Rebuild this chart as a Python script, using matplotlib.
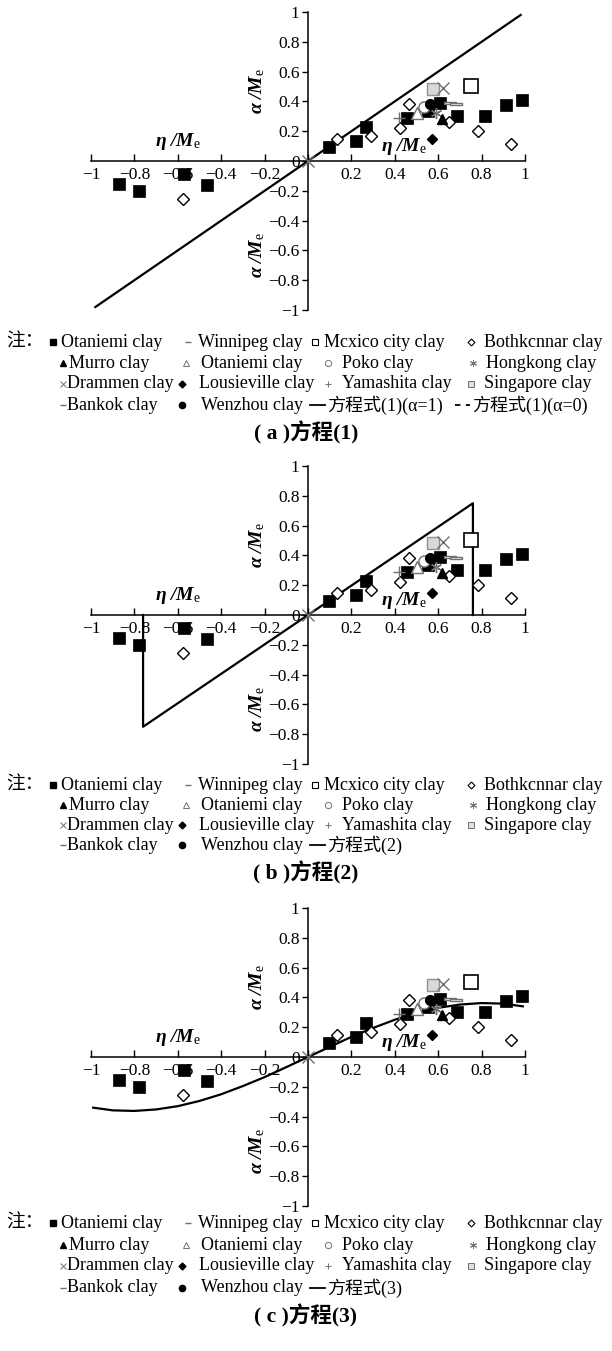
import numpy as np
import matplotlib.pyplot as plt
from matplotlib.lines import Line2D

plt.rcParams['font.family'] = ['Liberation Serif', 'Noto Sans CJK SC']
plt.rcParams['mathtext.fontset'] = 'custom'
plt.rcParams['mathtext.rm'] = 'Liberation Serif'
plt.rcParams['mathtext.it'] = 'Liberation Serif:italic'
plt.rcParams['mathtext.bf'] = 'Liberation Serif:bold:italic'
plt.rcParams['axes.unicode_minus'] = True

# ---- measured points (eta/Me, alpha/Me) ----
otaniemi_x = [-0.87, -0.777, -0.573, -0.465, 0.095, 0.221, 0.266, 0.455, 0.553, 0.61, 0.687, 0.815, 0.912, 0.985]
otaniemi_y = [-0.153, -0.203, -0.087, -0.16, 0.094, 0.131, 0.226, 0.288, 0.333, 0.388, 0.304, 0.304, 0.376, 0.41]
bothkennar_x = [-0.577, 0.135, 0.291, 0.425, 0.465, 0.65, 0.785, 0.935]
bothkennar_y = [-0.258, 0.151, 0.17, 0.222, 0.385, 0.26, 0.2, 0.112]
mexico_x, mexico_y = [0.753], [0.505]
singapore_x, singapore_y = [0.576], [0.481]
drammen_x, drammen_y = [0.62, 0.0], [0.488, 0.0]
hongkong_x, hongkong_y = [0.59], [0.325]
murro_x, murro_y = [0.619], [0.279]
otaniemi2_x, otaniemi2_y = [0.503], [0.324]
poko_x, poko_y = [0.534], [0.362]
wenzhou_x, wenzhou_y = [0.562], [0.383]
lousieville_x, lousieville_y = [0.571], [0.15]
yamashita_x, yamashita_y = [0.42], [0.29]
winnipeg_x, winnipeg_y = [0.655], [0.39]
bankok_x, bankok_y = [0.68], [0.385]

# ---- model curves ----
eq1_x = [-0.98, 0.98]
eq1_y = [-0.98, 0.98]
eq2_x = [-0.76, -0.76, 0.76, 0.76]
eq2_y = [0.0, -0.75, 0.75, 0.0]
eq3_x = [-0.99, -0.9, -0.8, -0.7, -0.6, -0.5, -0.4, -0.3, -0.2, -0.1, 0.0,
         0.1, 0.2, 0.3, 0.4, 0.5, 0.6, 0.7, 0.8, 0.9, 0.99]
eq3_y = [-0.34, -0.358, -0.362, -0.352, -0.33, -0.295, -0.25, -0.195, -0.135, -0.068, 0.0,
         0.068, 0.135, 0.195, 0.25, 0.295, 0.33, 0.352, 0.362, 0.358, 0.34]

ticks = [-1, -0.8, -0.6, -0.4, -0.2, 0, 0.2, 0.4, 0.6, 0.8, 1]
tick_labels = ['\u22121', '\u22120.8', '\u22120.6', '\u22120.4', '\u22120.2', '0',
               '0.2', '0.4', '0.6', '0.8', '1']

GRAY = '#707070'
dash = [(-1, -0.22), (1, -0.22), (1, 0.22), (-1, 0.22), (-1, -0.22)]
series = [
    (otaniemi_x, otaniemi_y, dict(marker='s', ms=8.5, mfc='black', mec='black', mew=0.5)),
    (bothkennar_x, bothkennar_y, dict(marker='D', ms=6, mfc='white', mec='black', mew=1)),
    (mexico_x, mexico_y, dict(marker='s', ms=9.5, mfc='white', mec='black', mew=1.2)),
    (singapore_x, singapore_y, dict(marker='s', ms=8.5, mfc='#d8d8d8', mec='#909090', mew=1)),
    (drammen_x, drammen_y, dict(marker='x', ms=8, mfc='none', mec=GRAY, mew=1)),
    (hongkong_x, hongkong_y, dict(marker=(6, 2, 0), ms=8, mec=GRAY, mew=1)),
    (otaniemi2_x, otaniemi2_y, dict(marker='^', ms=8, mfc='white', mec=GRAY, mew=1)),
    (poko_x, poko_y, dict(marker='o', ms=8, mfc='white', mec=GRAY, mew=1)),
    (wenzhou_x, wenzhou_y, dict(marker='o', ms=7, mfc='black', mec='black')),
    (murro_x, murro_y, dict(marker='^', ms=7, mfc='black', mec='black')),
    (lousieville_x, lousieville_y, dict(marker='D', ms=5.5, mfc='black', mec='black')),
    (yamashita_x, yamashita_y, dict(marker='+', ms=9, mec=GRAY, mew=1)),
    (winnipeg_x, winnipeg_y, dict(marker=dash, ms=9, mfc='white', mec=GRAY, mew=1)),
    (bankok_x, bankok_y, dict(marker=dash, ms=9, mfc='white', mec=GRAY, mew=1)),
]

legend_rows = [
    [('■', 'Otaniemi clay'), ('-', 'Winnipeg clay'), ('□', 'Mcxico city clay'), ('◇', 'Bothkcnnar clay')],
    [('▲', 'Murro clay'), ('△', 'Otaniemi clay'), ('○', 'Poko clay'), ('*', 'Hongkong clay')],
    [('×', 'Drammen clay'), ('◆', 'Lousieville clay'), ('+', 'Yamashita clay'), ('▫', 'Singapore clay')],
    [('-', 'Bankok clay'), ('●', 'Wenzhou clay')],
]
legend_markers = {
    '■': dict(marker='s', ms=4, mfc='black', mec='black'),
    '-': dict(marker='_', ms=4, mec=GRAY, mew=1),
    '□': dict(marker='s', ms=4.5, mfc='white', mec='black', mew=0.8),
    '◇': dict(marker='D', ms=3.5, mfc='white', mec='black', mew=0.8),
    '▲': dict(marker='^', ms=4.5, mfc='black', mec='black'),
    '△': dict(marker='^', ms=4.5, mfc='white', mec=GRAY, mew=0.7),
    '○': dict(marker='o', ms=4.5, mfc='white', mec=GRAY, mew=0.7),
    '*': dict(marker=(6, 2, 0), ms=5, mec=GRAY, mew=0.7),
    '×': dict(marker='x', ms=4.5, mec=GRAY, mew=0.7),
    '◆': dict(marker='D', ms=3.5, mfc='black', mec='black'),
    '+': dict(marker='+', ms=5, mec=GRAY, mew=0.7),
    '▫': dict(marker='s', ms=4.5, mfc='#e0e0e0', mec=GRAY, mew=0.7),
    '●': dict(marker='o', ms=4.5, mfc='black', mec='black'),
}
# column positions in pixels (marker x, text x)
marker_cols = [[53, 188, 315, 471], [63, 186, 328, 473], [63, 182, 328, 471], [63, 182]]
text_cols = [[61, 198, 324, 484], [69, 201, 342, 486], [67, 199, 342, 484], [67, 201]]

W, H = 612, 1351
fig = plt.figure(figsize=(W / 100, H / 100), dpi=100)


def fx(px):
    return px / W


def fy(py):
    return 1 - py / H


def draw_panel(top, cx, cy, row_y, caption, eq_items):
    ax = fig.add_axes([fx(91), fy(top + 298), fx(525) - fx(91), (298) / H])
    ax.set_xlim(-1, 1)
    ax.set_ylim(-1, 1)
    ax.patch.set_visible(False)
    for s in ['top', 'right']:
        ax.spines[s].set_visible(False)
    ax.spines['left'].set_position(('data', 0))
    ax.spines['bottom'].set_position(('data', 0))
    ax.spines['left'].set_linewidth(1.1)
    ax.spines['bottom'].set_linewidth(1.1)
    ax.set_xticks(ticks)
    ax.set_xticklabels([t if t != '0' else '' for t in tick_labels])
    ax.set_yticks(ticks)
    ax.set_yticklabels(tick_labels)
    ax.tick_params(axis='x', direction='in', length=5, width=1, labelsize=12.5, pad=4)
    ax.tick_params(axis='y', direction='out', length=4, width=1, labelsize=12.5, pad=2)

    ax.plot(cx, cy, color='black', lw=1.6, clip_on=False, zorder=2)
    for x, y, st in series:
        ax.plot(x, y, ls='none', clip_on=False, zorder=3, **st)

    lab_eta = r'$\mathbf{\eta\ /M}_{\mathrm{e}}$'
    lab_alpha = r'$\mathbf{\alpha\ /M}_{\mathrm{e}}$'
    ax.text(-0.6, 0.13, lab_eta, fontsize=14, ha='center', va='center')
    ax.text(0.44, 0.1, lab_eta, fontsize=14, ha='center', va='center')
    ax.text(-0.235, 0.47, lab_alpha, fontsize=14, ha='center', va='center', rotation=90)
    ax.text(-0.235, -0.63, lab_alpha, fontsize=14, ha='center', va='center', rotation=90)

    # legend block
    fig.text(fx(6), fy(row_y[0]), '注：', fontsize=13.5, va='center', ha='left')
    for r, items in enumerate(legend_rows):
        for c, (sym, name) in enumerate(items):
            fig.add_artist(Line2D([fx(marker_cols[r][c])], [fy(row_y[r])],
                                  transform=fig.transFigure, ls='none',
                                  **legend_markers[sym]))
            fig.text(fx(text_cols[r][c]), fy(row_y[r]), name, fontsize=13,
                     va='center', ha='left')
    for x0, ls, txt in eq_items:
        fig.add_artist(Line2D([fx(x0), fx(x0 + 15)], [fy(row_y[3])] * 2,
                              transform=fig.transFigure, color='black', lw=1.3, ls=ls))
        fig.text(fx(x0 + 17), fy(row_y[3]), txt, fontsize=13, va='center', ha='left')

    fig.text(0.5, fy(row_y[3] + 28), caption, fontsize=15.5, fontweight='bold',
             va='center', ha='center')


draw_panel(12, eq1_x, eq1_y, [342, 363, 384, 405], '( a )方程(1)',
           [(310, '-', '方程式(1)(α=1)'), (455, (0, (3, 3)), '方程式(1)(α=0)')])
draw_panel(466, eq2_x, eq2_y, [785, 805, 825, 845], '( b )方程(2)',
           [(310, '-', '方程式(2)')])
draw_panel(908, eq3_x, eq3_y, [1223, 1245, 1266, 1288], '( c )方程(3)',
           [(310, '-', '方程式(3)')])

fig.savefig('out.png', dpi=100)
